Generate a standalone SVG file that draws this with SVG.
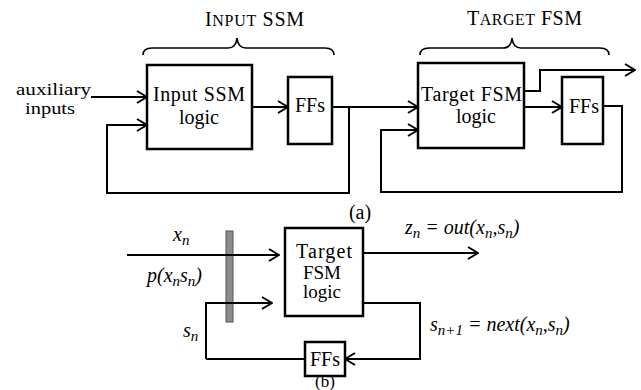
<svg xmlns="http://www.w3.org/2000/svg" width="641" height="390" viewBox="0 0 641 390">
<style>
text{font-family:"Liberation Serif","Times New Roman",serif;fill:#000;}
.t{font-size:20px;}
.s{font-size:19px;}
.m{font-size:20px;font-style:italic;}
.box{fill:#fff;stroke:#000;stroke-width:2.5;}
.ln{fill:none;stroke:#000;stroke-width:2;}
.br{fill:none;stroke:#000;stroke-width:1.6;}
</style>
<defs>
<marker id="ah" viewBox="0 0 12 14" refX="11" refY="7" markerWidth="12" markerHeight="14" markerUnits="userSpaceOnUse" orient="auto">
<path d="M1,1 L11,7 L1,13" fill="none" stroke="#000" stroke-width="2"/>
</marker>
</defs>
<rect width="641" height="390" fill="#fff"/>

<g id="labels-a">
<text x="205" y="26" class="t" font-size="21" textLength="99"><tspan>I</tspan><tspan font-size="16">NPUT</tspan> SSM</text>
<path class="br" d="M143,55 Q143,48 152,48 L228,48 Q236,48 237,38 Q238,48 246,48 L325,48 Q334,48 334,55"/>
<text x="467" y="25" class="t" textLength="115"><tspan>T</tspan><tspan font-size="16">ARGET</tspan> FSM</text>
<path class="br" d="M420,55 Q420,48 429,48 L503,48 Q511,48 512,38 Q513,48 521,48 L600,48 Q609,48 609,55"/>
<text x="16" y="95" font-size="17" textLength="75" lengthAdjust="spacingAndGlyphs">auxiliary</text>
<text x="25" y="114" font-size="17" textLength="50" lengthAdjust="spacingAndGlyphs">inputs</text>
<text x="360" y="219" class="t" text-anchor="middle">(a)</text>
</g>

<g id="input-ssm-logic">
<rect class="box" x="147" y="65" width="105" height="84"/>
<text x="153" y="101" class="t" textLength="92">Input SSM</text>
<text x="199" y="124" class="t" text-anchor="middle">logic</text>
</g>
<g id="ffs-1">
<rect class="box" x="288" y="77" width="44" height="67"/>
<text x="310" y="112" class="t" text-anchor="middle">FFs</text>
</g>
<g id="target-fsm-logic">
<rect class="box" x="418" y="63" width="106" height="85"/>
<text x="421" y="101" class="t" textLength="101">Target FSM</text>
<text x="476" y="123" class="t" text-anchor="middle">logic</text>
</g>
<g id="ffs-2">
<rect class="box" x="562" y="77" width="41" height="67"/>
<text x="584" y="113" class="t" text-anchor="middle">FFs</text>
</g>

<g id="target-fsm-logic-b">
<rect class="box" x="285" y="228" width="78" height="88"/>
<text x="324" y="258" class="t" text-anchor="middle" textLength="56">Target</text>
<text x="322" y="279" class="s" text-anchor="middle">FSM</text>
<text x="322" y="298" class="s" text-anchor="middle">logic</text>
</g>
<g id="ffs-b">
<rect class="box" x="305" y="342" width="40" height="34"/>
<text x="325" y="366" class="t" text-anchor="middle">FFs</text>
</g>
<g id="barrier">
<rect x="226" y="231" width="7" height="91" fill="#8c8c8c" stroke="#555" stroke-width="1"/>
</g>

<g id="connectors">
<path class="ln" d="M91,97 L147,97" marker-end="url(#ah)"/>
<path class="ln" d="M349,107 L349,193 L107,193 L107,125 L147,125" marker-end="url(#ah)"/>
<path class="ln" d="M252,107 L288,107" marker-end="url(#ah)"/>
<path class="ln" d="M332,107 L418,107" marker-end="url(#ah)"/>
<path class="ln" d="M524,107 L562,107" marker-end="url(#ah)"/>
<path class="ln" d="M524,91 L540,91 L540,70 L635,70" marker-end="url(#ah)"/>
<path class="ln" d="M603,106 L622,106 L622,192 L381,192 L381,130 L418,130" marker-end="url(#ah)"/>
<path class="ln" d="M127,255 L279,255" marker-end="url(#ah)"/>
<path class="ln" d="M206,359 L206,303 L272,303" marker-end="url(#ah)"/>
<path class="ln" d="M206,359 L305,359"/>
<path class="ln" d="M363,253 L478,253" marker-end="url(#ah)"/>
<path class="ln" d="M363,303 L420,303 L420,359 L345,359" marker-end="url(#ah)"/>
</g>

<g id="labels-b">
<text x="173" y="241" class="m">x<tspan font-size="15" dy="4">n</tspan></text>
<text x="147" y="282" class="m">p(x<tspan font-size="15" dy="4">n</tspan><tspan dy="-4">s</tspan><tspan font-size="15" dy="4">n</tspan><tspan dy="-4">)</tspan></text>
<text x="183" y="337" class="m">s<tspan font-size="15" dy="4">n</tspan></text>
<text x="405" y="234" class="m" font-size="21">z<tspan font-size="15" dy="4">n</tspan><tspan dy="-4"> = out(x</tspan><tspan font-size="15" dy="4">n</tspan><tspan dy="-4">,s</tspan><tspan font-size="15" dy="4">n</tspan><tspan dy="-4">)</tspan></text>
<text x="430" y="331" class="m">s<tspan font-size="15" dy="4">n+1</tspan><tspan dy="-4"> = next(x</tspan><tspan font-size="15" dy="4">n</tspan><tspan dy="-4">,s</tspan><tspan font-size="15" dy="4">n</tspan><tspan dy="-4">)</tspan></text>
<text x="325" y="387" font-size="17" text-anchor="middle">(b)</text>
</g>
</svg>
